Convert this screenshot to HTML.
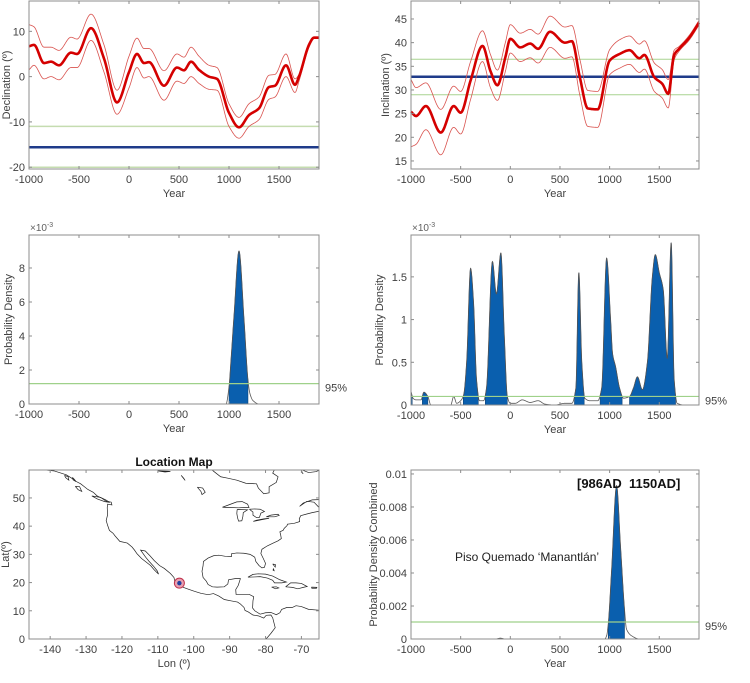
<!DOCTYPE html>
<html><head><meta charset="utf-8"><style>
body{margin:0;background:#fff;}
svg{display:block;font-family:"Liberation Sans",sans-serif;}
</style></head><body>
<svg id="fig" width="750" height="683" viewBox="0 0 750 683" xmlns="http://www.w3.org/2000/svg"></svg>
<script>
// ---------- DATA ----------
const decYears=[-1000,-950,-850,-780,-700,-580,-520,-380,-250,-120,0,80,150,200,350,480,550,620,700,800,880,1000,1100,1200,1300,1400,1460,1570,1660,1700,1800,1850,1900];
const decMean=[6.7,7.0,3.0,3.3,2.5,5.3,5.0,10.7,4.0,-5.7,1.0,5.0,3.0,3.2,-2.0,2.0,1.4,3.3,1.5,0,-0.5,-8,-11.2,-8.5,-7,-2.3,-2,2.5,-1.8,0,7,8.6,8.6];
const decUpper=[11.5,11,6.5,6.5,5.8,8.7,8.3,13.8,7,-3,4.5,8.5,6.2,6.2,1.3,5,4.3,6.5,4.5,2.5,2,-6,-9,-6,-4.5,0.3,0.5,5,-0.5,0.5,7.5,8.8,8.8];
const decLower=[1.5,2.5,-0.5,0,-0.7,2,2,8,1,-8.3,-2.5,2,-0.3,0,-5.2,-1,-1.5,0,-1.5,-2.8,-3,-11,-13.6,-11,-9.5,-5,-4.5,0,-3.5,-1,6.5,8.4,8.4];
const decRef=-15.6, decBand=[-11,-20];

const incYears=[-1000,-950,-850,-700,-570,-500,-400,-280,-200,-130,-50,0,100,200,280,400,550,620,700,780,880,1000,1100,1200,1300,1350,1450,1530,1590,1650,1700,1800,1900];
const incMean=[25.4,24.5,26.6,21,26.6,25.2,32,39.3,34,31,36.9,40.8,39,39.8,38.7,42.3,40,40.3,32.7,26.1,25.9,36.2,37.6,38.4,36.7,37.4,32.7,31.3,29.2,37.4,38.7,41,44.2];
const incUpper=[32.2,30.5,31.5,25.9,30.8,29.7,36,42.5,37.5,34.2,40,43.8,42,42.8,41.8,45.6,43.3,43.6,36.5,29.9,29.7,38.5,40.6,41.4,39.7,40.4,35.7,34.3,32.2,38.4,39.2,41.5,44.7];
const incLower=[18,18.5,21.6,16.3,22.1,20.7,28,36,30.5,27.8,33.9,37.8,36,36.8,35.7,39,36.7,37,28.9,22.3,22.1,33.2,34.6,35.4,33.7,34.4,29.7,28.3,26.2,36.4,38.2,40.5,43.7];
const incRef=32.8, incBand=[36.5,29];

const pdfDecYears=[-1000,900,970,1000,1020,1050,1100,1150,1190,1210,1240,1300,1900];
const pdfDecVals=[0,0,0,1.0,2.6,5.2,9.0,5.0,1.4,0.6,0.2,0,0];
const pdfDecThr=1.2;
const pdfDecInterval=[1000,1190];

const pdfIncYears=[-1000,-980,-950,-900,-870,-830,-800,-750,-600,-570,-540,-500,-470,-440,-400,-370,-340,-310,-270,-240,-180,-140,-95,-60,-30,0,50,120,200,280,350,450,550,620,660,690,720,750,800,880,920,970,1010,1030,1060,1100,1140,1200,1240,1280,1330,1380,1430,1460,1500,1540,1580,1620,1650,1680,1750,1900];
const pdfIncVals=[0.16,0.08,0.06,0.06,0.15,0.1,0,0,0,0.1,0.02,0.05,0.12,0.5,1.6,1.2,0.3,0.05,0.05,0.2,1.68,1.3,1.78,0.8,0.1,0.02,0.02,0.06,0.03,0.05,0.01,0,0.02,0.02,0.2,1.55,0.5,0.08,0.05,0.05,0.2,1.72,1.0,0.6,0.45,0.2,0.08,0.1,0.2,0.33,0.18,0.5,1.5,1.76,1.55,1.35,0.55,1.9,0.3,0.02,0,0];
const pdfIncThr=0.1;

const combYears=[-1000,-150,-100,-50,900,950,970,986,1020,1070,1110,1150,1170,1220,1300,1900];
const combVals=[0,0,0.00005,0,0,0,0.0002,0.0009,0.0042,0.0093,0.0056,0.0018,0.0006,0.0002,0,0];
const combThr=0.00103;
const combInterval=[986,1150];

const yearTicks=[-1000,-500,0,500,1000,1500];
const decTicks=[10,0,-10,-20];
const incTicks=[45,40,35,30,25,20,15];
const pdfDecTicks=[0,2,4,6,8];
const pdfIncTicks=[0,0.5,1,1.5];
const pdfIncTickLabels=['0','0.5','1','1.5'];
const combTicks=[0,0.002,0.004,0.006,0.008,0.01];
const combTickLabels=['0','0.002','0.004','0.006','0.008','0.01'];
const lonTicks=[-140,-130,-120,-110,-100,-90,-80,-70];
const latTicks=[0,10,20,30,40,50];
const site=[-104,19.8];

const coasts=[
 [[-142,60],[-139,59.6],[-137,58.8],[-135.5,58.2],[-134,57],[-133,56],[-131.5,55],[-130.5,54],[-129.5,53],[-128,52],[-127,50.8],[-125.5,49.8],[-124.5,48.9],[-123,48.5],[-122.8,47.5],[-124,47.8],[-124.1,46.5],[-124,44],[-124.4,42],[-124,40.3],[-123.5,38.5],[-122.5,37.5],[-121.9,36.5],[-120.6,34.6],[-118.5,34],[-117.2,32.6],[-116.5,31.5],[-115.8,30.2],[-114.5,28.5],[-113.5,27.5],[-112,26],[-111,24.5],[-109.8,23],[-110.2,24.2],[-111.2,25.8],[-112.5,27.6],[-113.4,29],[-114.8,31.5],[-113.5,31.2],[-112.2,29.5],[-111,27.8],[-109.5,26],[-108.2,25],[-106.5,23.2],[-105.5,21.8],[-105.3,20.5],[-104.5,19.5],[-103.5,18.6],[-101.8,17.8],[-99.8,16.9],[-98,16.2],[-96,15.7],[-94.5,16.1],[-93,15.2],[-91.5,14],[-89.5,13.5],[-87.8,13.1],[-87,12.4],[-86,11.2],[-85.7,10.1],[-84.8,9.6],[-83.5,8.5],[-82,8.2],[-80.5,7.4],[-79.8,8.4],[-78.5,8.5],[-78,7.5],[-77.8,6.5],[-77.3,4],[-78.5,2],[-79.5,0.5],[-80,0]],
 [[-65,10.2],[-68,10.5],[-70,11.5],[-71.5,11.8],[-72.5,11.2],[-74,11.2],[-75.5,10.5],[-76,9.3],[-77,8.6],[-78.5,9.4],[-80,9.3],[-81.5,8.8],[-83,10],[-83.6,11],[-83.5,13.5],[-83.3,15],[-84.5,15.8],[-86.5,15.8],[-88.2,15.8],[-88.3,17.5],[-87.6,19],[-87,21.4],[-88.5,21.4],[-90.3,21],[-90.5,19.5],[-91.5,18.5],[-93.5,18.4],[-94.8,18.5],[-96,19.3],[-96.5,20.5],[-97.4,21.8],[-97.7,24],[-97.4,26],[-97.3,27.5],[-96,28.7],[-94.5,29.5],[-93,29.7],[-91.2,29.3],[-89.5,29.2],[-89.5,30.2],[-88,30.5],[-86,30.4],[-84.3,30],[-83,29],[-82.7,27.5],[-81.8,26],[-81,25.2],[-80.3,25.4],[-80,26.8],[-80.6,28.5],[-81.3,30.3],[-81,31.8],[-79.5,33],[-78,33.9],[-76.5,34.8],[-75.6,35.6],[-75.8,37],[-76,38],[-75.1,38.5],[-74.8,39.2],[-74,40.2],[-73.9,40.7],[-72,41],[-70.5,41.6],[-70.6,42.6],[-70.2,43.7],[-68.5,44.3],[-67,44.8],[-65,45.3]],
 [[-65,46.5],[-66.5,48.5],[-68.5,48.8],[-70.5,47],[-69.5,48.2],[-67,49.3],[-65,49.4]],
 [[-95,60],[-94,59],[-92.5,57.5],[-90.5,57],[-88,56.3],[-85.5,55.2],[-82.5,55],[-82,53.5],[-80.5,51.5],[-79,51.8],[-79,54],[-77,55.5],[-76.5,57.5],[-78,58.8],[-77.5,60]],
 [[-70,60],[-68,59],[-66,59.3],[-65,59.8]],
 [[-92,46.7],[-89.5,47.9],[-88,48.6],[-86.5,48.7],[-85,47.8],[-84.6,46.6],[-86,46.6],[-87.5,46.5],[-90,46.6],[-92,46.7]],
 [[-87.9,45.9],[-88,44.5],[-87.8,43],[-87.5,41.8],[-86.6,41.9],[-86.3,43.5],[-86.2,44.8],[-85,45.8],[-87.9,45.9]],
 [[-84.5,46],[-83,46.1],[-81.5,46],[-80.3,45.2],[-81.3,44.6],[-81.7,43.1],[-82.5,43],[-83.5,43.9],[-83.5,45],[-84.5,46]],
 [[-83.4,41.7],[-81,42.3],[-79,42.8],[-80.5,42.6],[-82.5,42.1],[-83.4,41.7]],
 [[-79.8,43.3],[-77.5,43.3],[-76.2,43.8],[-76.5,44.2],[-78.5,43.9],[-79.8,43.3]],
 [[-84.9,21.9],[-83.5,22.9],[-82,23.1],[-80,23],[-78,22.3],[-76,21],[-74.2,20.2],[-75.5,19.9],[-77.5,19.9],[-78,20.8],[-79.5,21.6],[-81.5,22.1],[-83,22],[-84.9,21.9]],
 [[-74.4,18.5],[-73,19.9],[-71.5,19.9],[-70,19.7],[-68.4,18.6],[-69.5,18.3],[-71,17.8],[-72.5,18.3],[-74.4,18.5]],
 [[-78.3,18.4],[-77,18.5],[-76.3,18.1],[-77.2,17.8],[-78.3,18.4]],
 [[-67.2,18.4],[-65.7,18.3],[-65.8,18],[-67.1,18],[-67.2,18.4]],
 [[-78,26.6],[-77.2,26.3],[-77.3,25.5],[-78,26.6]],
 [[-77.8,25],[-77.6,24.2],[-77.9,24.4],[-77.8,25]],
 [[-128.4,50.7],[-126,50.2],[-124.5,49.3],[-123.4,48.4],[-124.8,48.7],[-126.8,49.6],[-128.4,50.7]],
 [[-133,54.1],[-131.8,54],[-131.2,52.3],[-132.2,52.9],[-133,54.1]],
 [[-136,58],[-135,57.5],[-134.8,56.3],[-135.7,57.2],[-136,58]],
 [[-133.8,57.3],[-133.2,56.5],[-132.8,55.8],[-133.6,56.4],[-133.8,57.3]],
 [[-110,59.6],[-108,59.2],[-106.5,59.4],[-108.5,59.5],[-110,59.6]],
 [[-103.5,58],[-102.8,57],[-102.4,56.2],[-103,57.2],[-103.5,58]],
 [[-99,53.8],[-97.5,53.5],[-96.8,52],[-97.7,51.2],[-98,52.3],[-99,53.8]],
 [[-70,60],[-69.8,59],[-69.5,58.5]]
];

// ---------- HELPERS ----------
const NS='http://www.w3.org/2000/svg';
const svg=document.getElementById('fig');
function mk(tag,attrs,parent){const e=document.createElementNS(NS,tag);for(const k in attrs)e.setAttribute(k,attrs[k]);(parent||svg).appendChild(e);return e;}
function txt(s,attrs,parent){const e=mk('text',attrs,parent);e.textContent=s;return e;}
function monotone(xs,ys){
 const n=xs.length,d=[],m=new Array(n);
 for(let i=0;i<n-1;i++)d.push((ys[i+1]-ys[i])/(xs[i+1]-xs[i]));
 m[0]=d[0];m[n-1]=d[n-2];
 for(let i=1;i<n-1;i++){if(d[i-1]*d[i]<=0)m[i]=0;else{m[i]=2/(1/d[i-1]+1/d[i]);}}
 return function(x){let i=0;while(i<n-2&&x>xs[i+1])i++;const h=xs[i+1]-xs[i],t=(x-xs[i])/h;
  const t2=t*t,t3=t2*t;return (2*t3-3*t2+1)*ys[i]+(t3-2*t2+t)*h*m[i]+(-2*t3+3*t2)*ys[i+1]+(t3-t2)*h*m[i+1];};
}
function samples(xs,ys,step){const f=monotone(xs,ys),out=[];for(let x=xs[0];x<=xs[xs.length-1]+1e-9;x+=step)out.push([x,f(x)]);return out;}
function axes(o){
 o.sx=v=>o.x0+(v-o.xmin)/(o.xmax-o.xmin)*(o.x1-o.x0);
 o.sy=v=>o.y1-(v-o.ymin)/(o.ymax-o.ymin)*(o.y1-o.y0);
 return o;
}
function frame(a,g,xt,xl,yt,yl,xlabel,ylabel,ylx){
 mk('rect',{x:a.x0,y:a.y0,width:a.x1-a.x0,height:a.y1-a.y0,fill:'none',stroke:'#8c8c8c','stroke-width':1,},g);
 xt.forEach((v,i)=>{const x=a.sx(v);
  mk('line',{x1:x,x2:x,y1:a.y1,y2:a.y1-3,stroke:'#8c8c8c'},g);
  mk('line',{x1:x,x2:x,y1:a.y0,y2:a.y0+3,stroke:'#8c8c8c'},g);
  txt(xl[i],{x:x,y:a.y1+14,'text-anchor':'middle','font-size':11,fill:'#404040',},g);});
 yt.forEach((v,i)=>{const y=a.sy(v);
  mk('line',{x1:a.x0,x2:a.x0+3,y1:y,y2:y,stroke:'#8c8c8c'},g);
  mk('line',{x1:a.x1,x2:a.x1-3,y1:y,y2:y,stroke:'#8c8c8c'},g);
  txt(yl[i],{x:a.x0-4,y:y+4,'text-anchor':'end','font-size':11,fill:'#404040',},g);});
 txt(xlabel,{x:(a.x0+a.x1)/2,y:a.y1+28,'text-anchor':'middle','font-size':11,fill:'#404040',},g);
 const cy=(a.y0+a.y1)/2;
 txt(ylabel,{x:ylx,y:cy,transform:`rotate(-90 ${ylx} ${cy})`,'text-anchor':'middle','font-size':11,fill:'#404040',},g);
}
function pathOf(pts,a){return pts.map((p,i)=>(i?'L':'M')+a.sx(p[0]).toFixed(2)+','+a.sy(p[1]).toFixed(2)).join('');}
function hline(a,g,v,color,w,name){const y=a.sy(v);const l=mk('line',{x1:a.x0,x2:a.x1,y1:y,y2:y,stroke:color,'stroke-width':w},g);}
const yrLabels=yearTicks.map(String);

// ---------- PANEL: DECLINATION ----------
(function(){
 const g=mk('g',{});
 const a=axes({x0:29,x1:319,y0:1,y1:169,xmin:-1000,xmax:1900,ymin:-20.4,ymax:16.7});
 hline(a,g,decBand[0],'#c5dcb0',1.5,'declination-band-upper');
 hline(a,g,decBand[1],'#c5dcb0',1.5,'declination-band-lower');
 hline(a,g,decRef,'#1f3b8a',2.5,'declination-reference-line');
 mk('path',{d:pathOf(samples(decYears,decUpper,5),a),fill:'none',stroke:'#d9534f','stroke-width':0.8,},g);
 mk('path',{d:pathOf(samples(decYears,decLower,5),a),fill:'none',stroke:'#d9534f','stroke-width':0.8,},g);
 mk('path',{d:pathOf(samples(decYears,decMean,5),a),fill:'none',stroke:'#d40000','stroke-width':2.6,},g);
 frame(a,g,yearTicks,yrLabels,decTicks,decTicks.map(String),'Year','Declination (º)',10);
})();

// ---------- PANEL: INCLINATION ----------
(function(){
 const g=mk('g',{});
 const a=axes({x0:411,x1:699,y0:1,y1:169,xmin:-1000,xmax:1900,ymin:13.3,ymax:48.8});
 hline(a,g,incBand[0],'#a8d490',1,'inclination-band-upper');
 hline(a,g,incBand[1],'#a8d490',1,'inclination-band-lower');
 hline(a,g,incRef,'#1f3b8a',2.5,'inclination-reference-line');
 mk('path',{d:pathOf(samples(incYears,incUpper,5),a),fill:'none',stroke:'#d9534f','stroke-width':0.8,},g);
 mk('path',{d:pathOf(samples(incYears,incLower,5),a),fill:'none',stroke:'#d9534f','stroke-width':0.8,},g);
 mk('path',{d:pathOf(samples(incYears,incMean,5),a),fill:'none',stroke:'#d40000','stroke-width':2.6,},g);
 frame(a,g,yearTicks,yrLabels,incTicks,incTicks.map(String),'Year','Inclination (º)',389);
})();

// ---------- PDF helper ----------
function pdfPanel(name,a,xs,ys,thr,interval,yt,yl,ylabel,ylx,exp){
 const g=mk('g',{});
 const pts=samples(xs,ys,2).map(p=>[p[0],Math.max(0,p[1])]);
 let run=[];
 const flush=()=>{if(run.length>1){const d='M'+a.sx(run[0][0])+','+a.sy(0)+pathOf(run,a).replace(/^M/,'L')+'L'+a.sx(run[run.length-1][0])+','+a.sy(0)+'Z';
   mk('path',{d:d,fill:'#0a5fae',stroke:'#0a3a6a','stroke-width':0.5,},g);}run=[];};
 pts.forEach(p=>{const inside=interval?(p[0]>=interval[0]&&p[0]<=interval[1]):p[1]>=thr;if(inside)run.push(p);else flush();});flush();
 mk('path',{d:pathOf(pts,a),fill:'none',stroke:'#555','stroke-width':0.8,},g);
 hline(a,g,thr,'#9fd18a',1.2,'confidence-95-line');
 txt('95%',{x:a.x1+6,y:a.sy(thr)+8,'font-size':11,fill:'#404040',},g);
 if(exp){const t=txt('×10',{x:a.x0+1,y:a.y0-4,'font-size':10,fill:'#606060',},g);
  const s=mk('tspan',{dy:-4,'font-size':7},t);s.textContent='-3';}
 frame(a,g,yearTicks,yrLabels,yt,yl,'Year',ylabel,ylx);
 return g;
}
pdfPanel('declination-pdf-panel',axes({x0:29,x1:319,y0:235,y1:404,xmin:-1000,xmax:1900,ymin:0,ymax:9.94}),pdfDecYears,pdfDecVals,pdfDecThr,pdfDecInterval,pdfDecTicks,pdfDecTicks.map(String),'Probability Density',12,true);
pdfPanel('inclination-pdf-panel',axes({x0:411,x1:699,y0:235,y1:405,xmin:-1000,xmax:1900,ymin:0,ymax:1.99}),pdfIncYears,pdfIncVals,pdfIncThr,null,pdfIncTicks,pdfIncTickLabels,'Probability Density',383,true);
const gc=pdfPanel('combined-pdf-panel',axes({x0:411,x1:699,y0:470,y1:639,xmin:-1000,xmax:1900,ymin:0,ymax:0.01024}),combYears,combVals,combThr,combInterval,combTicks,combTickLabels,'Probability Density Combined',377,false);
txt('[986AD  1150AD]',{x:577,y:488,'font-size':13,'font-weight':'bold',fill:'#111',},gc).setAttribute('style','white-space:pre');
txt('Piso Quemado ‘Manantlán’',{x:455,y:561,'font-size':12,fill:'#222',},gc);

// ---------- MAP ----------
(function(){
 const g=mk('g',{});
 const a=axes({x0:29,x1:319,y0:470,y1:639,xmin:-145.9,xmax:-65.1,ymin:0,ymax:59.9});
 const clip=mk('clipPath',{id:'mapclip'},g);mk('rect',{x:a.x0,y:a.y0,width:a.x1-a.x0,height:a.y1-a.y0},clip);
 const cg=mk('g',{'clip-path':'url(#mapclip)'},g);
 coasts.forEach(c=>{const p=mk('path',{d:pathOf(c,a),fill:'none',stroke:'#222','stroke-width':0.7},cg);
  });
 mk('circle',{cx:a.sx(site[0]),cy:a.sy(site[1]),r:5,fill:'#e8a0b0',stroke:'#c0304a','stroke-width':1,},g);
 mk('circle',{cx:a.sx(site[0]),cy:a.sy(site[1]),r:2.2,fill:'#2040a0',},g);
 txt('Location Map',{x:174,y:466,'text-anchor':'middle','font-size':12,'font-weight':'bold',fill:'#111',},g);
 frame(a,g,lonTicks,lonTicks.map(String),latTicks,latTicks.map(String),'Lon (º)','Lat(º)',9);
})();
</script>
</body></html>
